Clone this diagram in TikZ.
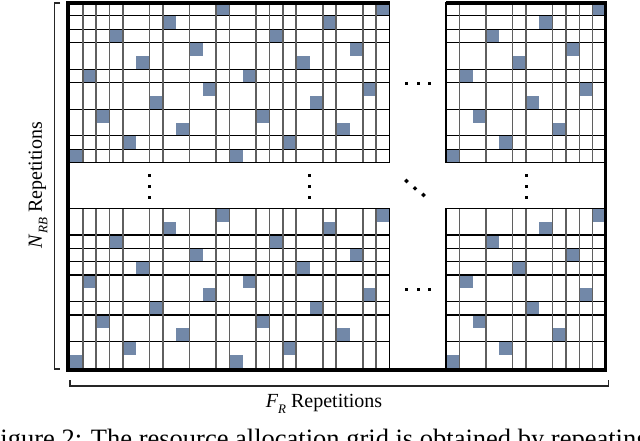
\documentclass[tikz,border=0pt]{standalone}
\usepackage{fontspec}
\setmainfont{Liberation Serif}
\definecolor{rbblue}{RGB}{114,136,168}
\definecolor{vgray}{RGB}{95,95,95}
\tikzset{
  hline/.style={black, line width=1.1pt},
  vline/.style={vgray, line width=1.4pt},
  blockedge/.style={black, line width=1.6pt},
  outerframe/.style={black, line width=3.6pt, line join=miter},
  rbcell/.style={fill=rbblue},
  dotmark/.style={fill=black},
  bracketline/.style={black!85, line width=1.2pt},
  lbl/.style={font=\fontsize{20}{24}\selectfont, inner sep=0pt},
  captext/.style={font=\fontsize{26.5}{30}\selectfont, inner sep=0pt, anchor=base west},
}
\begin{document}
\begin{tikzpicture}[x=1pt,y=-1pt]
\clip (0,0) rectangle (640,440);
\fill[white] (0,0) rectangle (640,440);
\def\u{13.3333}
% blue resource cells (one per row in every 12x12 sub-grid)
\foreach \ox/\oy in {69.5/2.5, 229.5/2.5, 446/2.5, 69.5/208.3, 229.5/208.3, 446/208.3} {
  \foreach \r/\c in {0/11,1/7,2/3,3/9,4/5,5/1,6/10,7/6,8/2,9/8,10/4,11/0} {
    \fill[rbcell] ({\ox+\c*\u},{\oy+\r*\u}) rectangle ++(\u,\u);
  }
}
% horizontal lines, top blocks
\foreach \r in {1,2,3,5,6,8,10,11} {
  \draw[hline] (69.5,{2.5+\r*\u}) -- (389.5,{2.5+\r*\u});
  \draw[hline] (446,{2.5+\r*\u}) -- (606,{2.5+\r*\u});
}
% horizontal lines, bottom blocks
\foreach \r in {2,3,4,5,7,8,10} {
  \draw[hline] (69.5,{208.3+\r*\u}) -- (389.5,{208.3+\r*\u});
  \draw[hline] (446,{208.3+\r*\u}) -- (606,{208.3+\r*\u});
}
% vertical lines, left blocks
\foreach \c in {1,2,3,4,6,7,9,11,12,14,15,16,17,19,20,22,23} {
  \draw[vline] ({69.5+\c*\u},2.5) -- ({69.5+\c*\u},162.5);
  \draw[vline] ({69.5+\c*\u},208.3) -- ({69.5+\c*\u},368.3);
}
% vertical lines, right blocks
\foreach \c in {1,3,5,6,8,9,10,11} {
  \draw[vline] ({446+\c*\u},2.5) -- ({446+\c*\u},162.5);
  \draw[vline] ({446+\c*\u},208.3) -- ({446+\c*\u},368.3);
}
% block borders
\draw[blockedge] (69.5,2.5) rectangle (389.5,162.5);
\draw[blockedge] (446,2.5) rectangle (606,162.5);
\draw[blockedge] (69.5,208.3) rectangle (389.5,368.3);
\draw[blockedge] (446,208.3) rectangle (606,368.3);
% outer frame
\draw[outerframe] (389.5,3.2) -- (68.2,3.2) -- (68.2,369.8) -- (605.5,369.8) -- (605.5,3.2) -- (446,3.2);
% vertical dots
\foreach \x in {149.5,309.5,526} {
  \foreach \y in {175,186,197} {
    \fill[dotmark] (\x-1.5,\y-1.5) rectangle ++(3,3);
  }
}
% horizontal dots
\foreach \y in {83,289} {
  \foreach \x in {406.5,418,429.5} {
    \fill[dotmark] (\x-1.5,\y-1.5) rectangle ++(3,3);
  }
}
% diagonal dots
\foreach \x/\y in {406.5/181,415/188.3,423.5/195} {
  \fill[dotmark] (\x-2.3,\y) -- (\x,\y-2.3) -- (\x+2.3,\y) -- (\x,\y+2.3) -- cycle;
}
% brackets
\coordinate (lbtop) at (54.5,3);
\coordinate (lbbot) at (54.5,369);
\draw[bracketline] (60,3) -- (lbtop) -- (lbbot) -- (60,369);
\coordinate (bbl) at (70,386);
\coordinate (bbr) at (608.5,386);
\draw[bracketline] (70,380) -- (bbl) -- (bbr) -- (608.5,380);
% labels
\node[lbl] (frlabel) at (324,404) {\textit{F}\raisebox{-0.28em}{\fontsize{13}{13}\selectfont\textit{R}} Repetitions};
\node[lbl, rotate=90] (nrblabel) at (38,185) {\textit{N}\raisebox{-0.28em}{\fontsize{13}{13}\selectfont\textit{RB}} Repetitions};
% caption (cut by the picture edge)
\node[captext] (caption) at (-14.5,447) {Figure 2: The resource allocation grid is obtained by repeating the};
\end{tikzpicture}
\end{document}
